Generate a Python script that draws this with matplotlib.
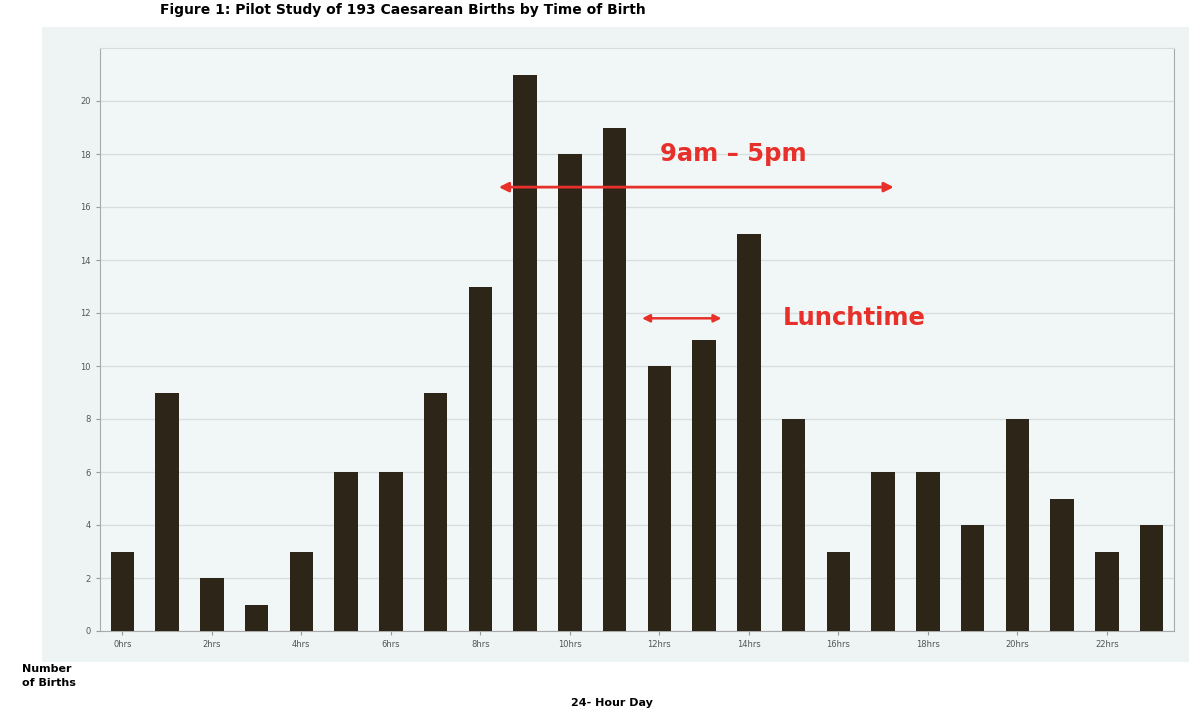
import matplotlib
matplotlib.use("Agg")
import matplotlib.pyplot as plt
from matplotlib.patches import Rectangle

hours = list(range(24))
births = [3, 9, 2, 1, 3, 6, 6, 9, 13, 21, 18, 19, 10, 11, 15, 8, 3, 6, 6, 4, 8, 5, 3, 4]
xtick_pos = list(range(0, 24, 2))
xtick_labels = [f"{h}hrs" for h in xtick_pos]
ytick_vals = list(range(0, 21, 2))

title = "Figure 1: Pilot Study of 193 Caesarean Births by Time of Birth"

fig = plt.figure(figsize=(11.89, 7.11), dpi=100)
fig.patch.set_facecolor("white")
# light panel behind chart
fig.patches.append(Rectangle((42/1189, 1-662/711), 1-42/1189, (662-27)/711,
                             transform=fig.transFigure, facecolor="#eef4f4",
                             edgecolor="none", zorder=-5))

ax = fig.add_axes([100/1189, 1-631/711, (1174-100)/1189, (631-48)/711])
ax.set_facecolor("#f1f6f6")
ax.bar(hours, births, width=0.52, color="#2e2519", zorder=3)
ax.set_xlim(-0.5, 23.5)
ax.set_ylim(0, 22)
ax.set_yticks(ytick_vals)
ax.set_yticklabels([str(v) for v in ytick_vals], fontsize=6, color="#555555")
ax.set_xticks(xtick_pos)
ax.set_xticklabels(xtick_labels, fontsize=6, color="#555555")
ax.tick_params(axis="both", length=3, color="#999999")
ax.grid(axis="y", color="#d8dede", linewidth=1, zorder=0)
ax.spines["top"].set_color("#d5dcdc")
for s in ["left", "right", "bottom"]:
    ax.spines[s].set_color("#aaaaaa")

# annotations
red = "#e8302a"
ax.annotate("", xy=(8.35, 16.75), xytext=(17.3, 16.75),
            arrowprops=dict(arrowstyle="<|-|>", color=red, lw=2, mutation_scale=14), zorder=5)
ax.text(13.65, 18.0, "9am – 5pm", color=red, fontsize=17.5, fontweight="bold",
        ha="center", va="center", zorder=5)
ax.annotate("", xy=(11.55, 11.8), xytext=(13.45, 11.8),
            arrowprops=dict(arrowstyle="<|-|>", color=red, lw=1.8, mutation_scale=11), zorder=5)
ax.text(14.75, 11.8, "Lunchtime", color=red, fontsize=17.5, fontweight="bold",
        ha="left", va="center", zorder=5)

fig.text(160/1189, 1-3/711, title, fontsize=10, fontweight="bold", ha="left", va="top")
fig.text(22/1189, 1-676/711, "Number\nof Births", fontsize=8, fontweight="bold",
         ha="left", va="center", linespacing=1.4)
fig.text(612/1189, 1-703/711, "24- Hour Day", fontsize=8, fontweight="bold",
         ha="center", va="center")

fig.savefig("out.png", dpi=100)
